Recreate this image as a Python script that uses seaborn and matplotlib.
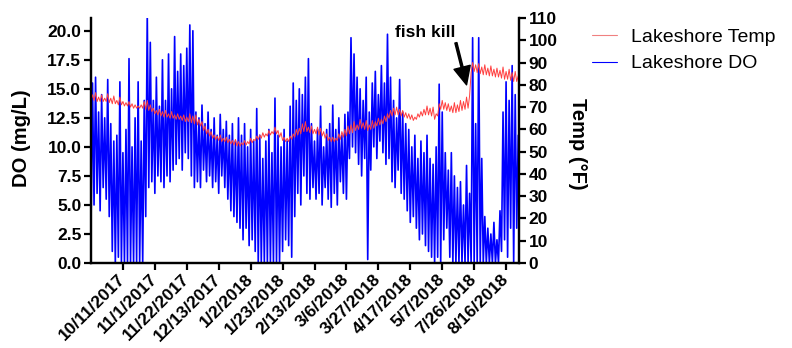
import numpy as np
import pandas as pd
import matplotlib
matplotlib.use("Agg")
import matplotlib.pyplot as plt
from matplotlib.lines import Line2D
import seaborn as sns

date_labels = ["10/11/2017", "11/1/2017", "11/22/2017", "12/13/2017", "1/2/2018",
               "1/23/2018", "2/13/2018", "3/6/2018", "3/27/2018", "4/17/2018",
               "5/7/2018", "7/26/2018", "8/16/2018"]

# DO (mg/L): lower and upper envelope, read every 2 samples
do_lo = [3.0, 5.0, 6.0, 4.5, 6.5, 5.5, 4.0, 1.0, 0.0, 0.5,
         0, 0, 0, 0, 0, 0, 0, 0, 4.0, 6.5,
         7.0, 6.0, 7.5, 7.0, 6.5, 7.5, 7.0, 8.0, 8.5, 9.0,
         8.0, 9.5, 9.0, 7.5, 6.5, 7.0, 6.5, 8.0, 7.0, 7.5,
         6.5, 7.0, 6.0, 7.5, 6.5, 5.5, 4.5, 4.0, 3.5, 3.0,
         2.0, 3.0, 1.5, 2.0, 1.0, 0, 0, 0, 0, 0,
         0, 0, 0, 1.0, 2.0, 1.5, 0.5, 4.0, 6.0, 5.0,
         7.5, 6.0, 5.5, 6.5, 5.5, 6.0, 5.0, 6.5, 5.5, 4.8,
         6.0, 5.0, 7.0, 6.0, 5.5, 9.0, 10.0, 9.5, 8.5, 7.5,
         9.0, 0.3, 8.0, 10.0, 9.0, 10.5, 9.5, 8.5, 9.0, 7.0,
         6.5, 8.0, 6.0, 5.5, 4.5, 3.5, 4.0, 3.0, 2.0, 2.5,
         1.5, 1.0, 0.5, 0, 0.5, 0, 2.0, 3.0, 0.5, 0,
         0, 0, 0, 0, 0, 0, 0, 0, 0, 0,
         0, 0, 0, 0, 0, 1.0, 2.0, 0.5, 3.0, 0,
         3.0]
do_hi = [15.5, 16.0, 13.0, 14.5, 12.5, 15.8, 12.0, 10.5, 11.0, 15.6,
         9.5, 11.5, 17.6, 10.0, 12.5, 15.6, 10.5, 14.0, 21.5, 19.0,
         14.0, 16.0, 13.5, 17.5, 14.0, 18.0, 15.0, 19.5, 16.5, 18.0,
         17.0, 18.5, 20.5, 20.0, 13.0, 12.5, 13.6, 12.0, 13.0, 11.5,
         12.5, 11.0, 12.8, 11.5, 12.2, 11.0, 12.0, 10.5, 12.5, 11.0,
         12.0, 10.0, 11.5, 10.5, 13.3, 11.0, 9.0, 10.5, 11.5, 9.5,
         14.2, 11.0, 10.0, 11.5, 10.5, 13.5, 15.5, 14.0, 15.0, 14.5,
         16.0, 17.6, 12.0, 10.5, 11.5, 13.5, 10.0, 11.5, 12.0, 13.6,
         11.5, 12.5, 11.0, 12.8, 13.0, 19.4, 18.0, 16.0, 15.0, 14.0,
         16.0, 13.0, 15.5, 16.5, 14.5, 17.0, 15.5, 19.7, 16.0, 14.0,
         12.5, 15.8, 13.0, 12.0, 11.5, 10.0, 11.0, 9.0, 10.5, 9.5,
         11.0, 9.0, 8.5, 10.0, 15.4, 13.0, 9.5, 8.0, 9.5, 7.5,
         6.5, 7.0, 5.0, 8.4, 6.0, 19.4, 12.0, 19.4, 9.0, 4.0,
         3.0, 2.5, 3.5, 2.0, 4.5, 13.0, 15.6, 14.0, 17.0, 14.5,
         11.0]

# Temperature (°F): daily base and daily peak
temp_lo = [73.0, 73.0, 72.5, 72.5, 72.5, 72.5, 72.0, 71.5, 71.5, 71.0,
           71.0, 70.5, 70.5, 70.0, 69.5, 69.5, 69.5, 69.5, 69.0, 68.5,
           68.0, 67.0, 66.5, 66.0, 65.5, 65.5, 65.0, 65.0, 64.5, 64.5,
           64.0, 63.5, 63.5, 63.0, 62.5, 62.0, 61.5, 59.5, 58.0, 57.0,
           56.0, 55.5, 55.0, 54.5, 54.5, 54.0, 53.5, 53.0, 52.5, 52.5,
           53.0, 53.0, 53.5, 54.0, 55.0, 55.5, 56.0, 56.5, 57.0, 57.5,
           58.0, 58.0, 56.5, 55.0, 54.5, 54.5, 55.5, 56.5, 57.5, 58.0,
           59.0, 59.0, 58.5, 58.0, 58.0, 57.5, 57.0, 56.0, 55.0, 54.5,
           54.5, 55.0, 55.5, 56.5, 57.0, 58.0, 58.5, 59.5, 60.0, 60.5,
           60.0, 59.5, 60.0, 60.5, 61.5, 62.0, 62.5, 63.5, 65.0, 66.0,
           66.5, 66.5, 66.0, 65.5, 65.0, 64.5, 64.0, 64.5, 65.5, 66.0,
           66.5, 66.5, 66.0, 64.5, 66.0, 69.0, 69.0, 68.5, 68.0, 67.5,
           67.5, 68.0, 68.5, 69.0, 69.5, 85.5, 86.0, 85.5, 85.0, 84.5,
           84.5, 84.0, 84.0, 83.5, 83.5, 83.0, 82.5, 82.5, 82.0, 81.5,
           81.5]
temp_hi = [75.5, 76.5, 74.5, 75.5, 74.0, 76.0, 74.0, 75.0, 73.0, 74.5,
           72.5, 72.0, 72.5, 71.5, 71.0, 70.5, 71.0, 72.5, 73.0, 71.0,
           69.5, 68.5, 69.0, 68.0, 68.5, 67.0, 68.0, 66.5, 67.0, 66.0,
           66.5, 65.5, 67.0, 66.0, 66.5, 64.5, 63.5, 61.5, 60.0, 59.0,
           57.5, 57.0, 57.5, 56.0, 56.5, 55.5, 55.0, 55.5, 54.5, 54.0,
           55.0, 54.5, 56.0, 55.5, 57.0, 57.5, 58.5, 58.0, 59.5, 59.0,
           61.0, 59.5, 58.5, 56.5, 56.0, 57.0, 58.0, 60.0, 60.5, 62.5,
           63.5, 61.0, 61.5, 60.0, 61.0, 60.5, 59.0, 58.0, 56.5, 56.5,
           56.0, 58.0, 59.0, 60.0, 61.5, 62.0, 63.5, 62.0, 64.5, 63.0,
           64.0, 62.0, 64.0, 63.5, 65.0, 64.5, 66.0, 67.0, 68.5, 69.5,
           70.0, 69.0, 68.5, 67.5, 67.0, 66.5, 65.5, 67.0, 68.0, 69.0,
           70.5, 69.5, 70.0, 67.0, 71.5, 73.0, 72.0, 71.5, 70.5, 72.0,
           71.0, 73.0, 72.5, 74.5, 75.0, 90.0, 89.0, 89.5, 88.0, 89.0,
           87.5, 88.5, 87.0, 87.5, 86.5, 88.0, 86.0, 87.0, 85.5, 86.0,
           84.0]

sns.set_theme(style="ticks")
plt.rcParams["font.family"] = ["Liberation Sans", "DejaVu Sans"]
for k in ("text.color", "axes.labelcolor", "xtick.color", "ytick.color",
          "axes.edgecolor"):
    plt.rcParams[k] = "black"

n = len(do_lo)
t = np.empty(2 * n)
t[0::2] = 2 * np.arange(n)
t[1::2] = 2 * np.arange(n) + 1
do_vals = np.empty(2 * n)
do_vals[0::2] = do_lo
do_vals[1::2] = do_hi
temp_vals = np.empty(2 * n)
temp_vals[0::2] = temp_lo
temp_vals[1::2] = temp_hi
df = pd.DataFrame({"t": t, "DO": do_vals, "Temp": temp_vals})

W, H = 792, 348
fig = plt.figure(figsize=(W / 100, H / 100), dpi=100)
ax = fig.add_axes([91 / W, 1 - 263 / H, 428 / W, 245 / H])
sns.lineplot(data=df, x="t", y="DO", ax=ax, color="#0000FF", lw=1.2,
             estimator=None, sort=False)
ax2 = ax.twinx()
sns.lineplot(data=df, x="t", y="Temp", ax=ax2, color="#FF4040", lw=0.7,
             estimator=None, sort=False)

ax.set_xlim(0, 281.5)
ax.set_ylim(0, 21.1)
ax2.set_ylim(0, 110)

tick_pos = [21 + 21 * k for k in range(len(date_labels))]
ax.set_xticks(tick_pos)
ax.set_xticklabels(date_labels, rotation=45, ha="right", va="center",
                   rotation_mode="anchor", fontweight="bold", fontsize=12.5)
ax.set_yticks(np.arange(0, 20.01, 2.5))
ax.set_yticklabels([f"{v:.1f}" for v in np.arange(0, 20.01, 2.5)],
                   fontweight="bold", fontsize=12.5)
ax2.set_yticks(np.arange(0, 111, 10))
ax2.set_yticklabels([str(v) for v in range(0, 111, 10)],
                    fontweight="bold", fontsize=12.5)

for a in (ax, ax2):
    a.spines["top"].set_visible(False)
    for s in ("left", "right", "bottom"):
        a.spines[s].set_linewidth(1.6)
        a.spines[s].set_color("black")
    a.tick_params(width=1.6, length=5, color="black", labelcolor="black", pad=2)
ax.tick_params(axis="x", pad=5)

ax.set_xlabel("")
ax.set_ylabel("DO (mg/L)", fontsize=14.5, fontweight="bold")
ax.yaxis.set_label_coords(-0.141, 0.51)
ax2.set_ylabel("Temp (°F)", fontsize=14.5, fontweight="bold", rotation=270,
               va="bottom")
ax2.yaxis.set_label_coords(1.114, 0.486)

ax2.annotate("fish kill", xy=(247, 80), xytext=(219.6, 103.7),
             ha="center", va="center", fontsize=12.5, fontweight="bold",
             arrowprops=dict(facecolor="black", edgecolor="black", width=1.5,
                             headwidth=12, headlength=13, shrink=0.0))

handles = [Line2D([], [], color="#F08080", lw=0.8),
           Line2D([], [], color="#0000FF", lw=0.8)]
fig.legend(handles, ["Lakeshore Temp", "Lakeshore DO"], loc="upper left",
           bbox_to_anchor=(574 / W, 1 - 11 / H), frameon=False, fontsize=14,
           handlelength=1.3, handletextpad=0.75, labelspacing=0.45)

fig.savefig("out.png", dpi=100)
